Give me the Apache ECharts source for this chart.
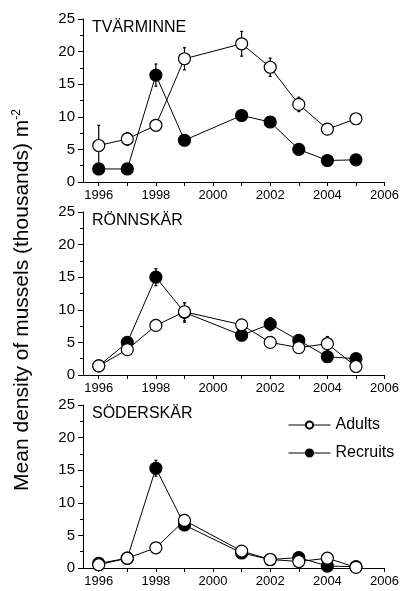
<!DOCTYPE html>
<html>
<head>
<meta charset="utf-8">
<script src="https://cdn.jsdelivr.net/npm/echarts@6/dist/echarts.min.js"></script>
<style>
  html, body { margin: 0; padding: 0; background: #fff; }
  #main { width: 402px; height: 591px; }
</style>
</head>
<body>
<div id="main"></div>
<script>
// sampling years
var years = [1996, 1997, 1998, 1999, 2001, 2002, 2003, 2004, 2005];
var labelYears = [1996, 1998, 2000, 2002, 2004, 2006];
var tickYears = [1996, 1997, 1998, 1999, 2000, 2001, 2002, 2003, 2004, 2005, 2006];
var sites = ['TVÄRMINNE', 'RÖNNSKÄR', 'SÖDERSKÄR'];

// Tvärminne
var tvAdults = [5.6, 6.6, 8.7, 18.9, 21.2, 17.6, 11.9, 8.1, 9.7];
var tvAdultsErr = [3.1, 1.0, 0.4, 1.7, 1.9, 1.4, 1.1, 0.8, 0.4];
var tvRecruits = [2.0, 2.0, 16.4, 6.4, 10.2, 9.2, 5.0, 3.3, 3.4];
var tvRecruitsErr = [0.3, 0.3, 1.7, 0.4, 0.7, 0.7, 0.4, 0.3, 0.3];

// Rönnskär
var roAdults = [1.4, 3.9, 7.6, 9.7, 7.7, 5.0, 4.2, 4.8, 1.3];
var roAdultsErr = [0.3, 0.4, 0.4, 1.4, 0.5, 0.5, 0.5, 1.1, 0.6];
var roRecruits = [1.4, 5.0, 15.0, 9.6, 6.1, 7.8, 5.3, 2.8, 2.5];
var roRecruitsErr = [0.3, 0.4, 1.3, 1.5, 0.4, 1.0, 0.5, 0.4, 0.3];

// Söderskär
var soAdults = [0.5, 1.5, 3.1, 7.3, 2.6, 1.3, 1.0, 1.5, 0.1];
var soAdultsErr = [0.2, 0.2, 0.5, 0.4, 0.3, 0.2, 0.7, 0.4, 0.1];
var soRecruits = [0.7, 1.5, 15.3, 6.6, 2.3, 1.3, 1.6, 0.3, 0.2];
var soRecruitsErr = [0.2, 0.2, 1.2, 0.3, 0.3, 0.2, 0.3, 0.2, 0.1];

var adultsAll = [tvAdults, roAdults, soAdults];
var adultsErrAll = [tvAdultsErr, roAdultsErr, soAdultsErr];
var recruitsAll = [tvRecruits, roRecruits, soRecruits];
var recruitsErrAll = [tvRecruitsErr, roRecruitsErr, soRecruitsErr];

var FONT = '"Liberation Sans", Arial, sans-serif';
var tops = [19, 212, 405];

// vertical error bars with small caps
function errSeries(idx, vals, errs) {
    return {
        type: 'custom',
        xAxisIndex: idx,
        yAxisIndex: idx,
        silent: true,
        z: 1,
        renderItem: function (params, api) {
            var x = api.value(0);
            var lo = api.coord([x, api.value(1)]);
            var hi = api.coord([x, api.value(2)]);
            var c = 1.5;
            var st = { stroke: '#000', lineWidth: 1.2 };
            return {
                type: 'group',
                children: [
                    { type: 'line', shape: { x1: hi[0], y1: hi[1], x2: lo[0], y2: lo[1] }, style: st },
                    { type: 'line', shape: { x1: hi[0] - c, y1: hi[1], x2: hi[0] + c, y2: hi[1] }, style: st },
                    { type: 'line', shape: { x1: lo[0] - c, y1: lo[1], x2: lo[0] + c, y2: lo[1] }, style: st }
                ]
            };
        },
        data: years.map(function (y, i) { return [y, vals[i] - errs[i], vals[i] + errs[i]]; })
    };
}

function lineSeries(name, idx, vals, filled) {
    return {
        name: name,
        type: 'line',
        xAxisIndex: idx,
        yAxisIndex: idx,
        z: 3,
        symbol: 'circle',
        symbolSize: 12,
        showSymbol: true,
        lineStyle: { color: '#000', width: 1 },
        itemStyle: { color: filled ? '#000' : '#fff', borderColor: '#000', borderWidth: 1.2 },
        emphasis: { disabled: true },
        data: years.map(function (y, i) { return [y, vals[i]]; })
    };
}

var grids = [], xAxes = [], yAxes = [], series = [], titles = [];
for (var k = 0; k < 3; k++) {
    grids.push({ left: 83, right: 16, top: tops[k], height: 163 });
    xAxes.push({
        type: 'value', gridIndex: k, min: 1995.45, max: 2006,
        axisLine: { lineStyle: { color: '#000', width: 1 } },
        axisTick: { customValues: tickYears, length: 4, lineStyle: { color: '#000' } },
        axisLabel: {
            customValues: labelYears, color: '#000', fontSize: 13, fontFamily: FONT, margin: 7,
            formatter: function (v) { return String(v); }
        },
        splitLine: { show: false }
    });
    yAxes.push({
        type: 'value', gridIndex: k, min: 0, max: 25, interval: 5,
        axisLine: { show: true, lineStyle: { color: '#000', width: 1 } },
        axisTick: { show: true, length: 5, lineStyle: { color: '#000' } },
        minorTick: { show: true, splitNumber: 2, length: 3, lineStyle: { color: '#000' } },
        axisLabel: { color: '#000', fontSize: 15, fontFamily: FONT, margin: 8 },
        splitLine: { show: false }
    });
    series.push(errSeries(k, adultsAll[k], adultsErrAll[k]));
    series.push(errSeries(k, recruitsAll[k], recruitsErrAll[k]));
    series.push(lineSeries('Recruits', k, recruitsAll[k], true));
    series.push(lineSeries('Adults', k, adultsAll[k], false));
    titles.push({
        text: sites[k], left: 92, top: tops[k] + 1, padding: 0,
        textStyle: { color: '#000', fontSize: 16, fontWeight: 'normal', fontFamily: FONT }
    });
}

var chart = echarts.init(document.getElementById('main'));
chart.setOption({
    animation: false,
    backgroundColor: '#fff',
    title: titles,
    grid: grids,
    xAxis: xAxes,
    yAxis: yAxes,
    legend: {
        data: ['Adults', 'Recruits'],
        orient: 'vertical',
        left: 283, top: 412,
        itemWidth: 42, itemHeight: 9, itemGap: 12,
        selectedMode: false,
        lineStyle: { width: 1 },
        textStyle: { color: '#000', fontSize: 16, fontFamily: FONT }
    },
    graphic: [{
        type: 'text',
        x: 22, y: 300, rotation: Math.PI / 2,
        style: {
            text: '{a|Mean density of mussels (thousands) m}{s|-2}',
            rich: {
                a: { fontSize: 21, fontFamily: FONT, fill: '#000', verticalAlign: 'bottom' },
                s: { fontSize: 12, fontFamily: FONT, fill: '#000', verticalAlign: 'top', padding: [0, 0, 10, 0] }
            },
            align: 'center', verticalAlign: 'middle'
        }
    }],
    series: series
});
</script>
</body>
</html>
